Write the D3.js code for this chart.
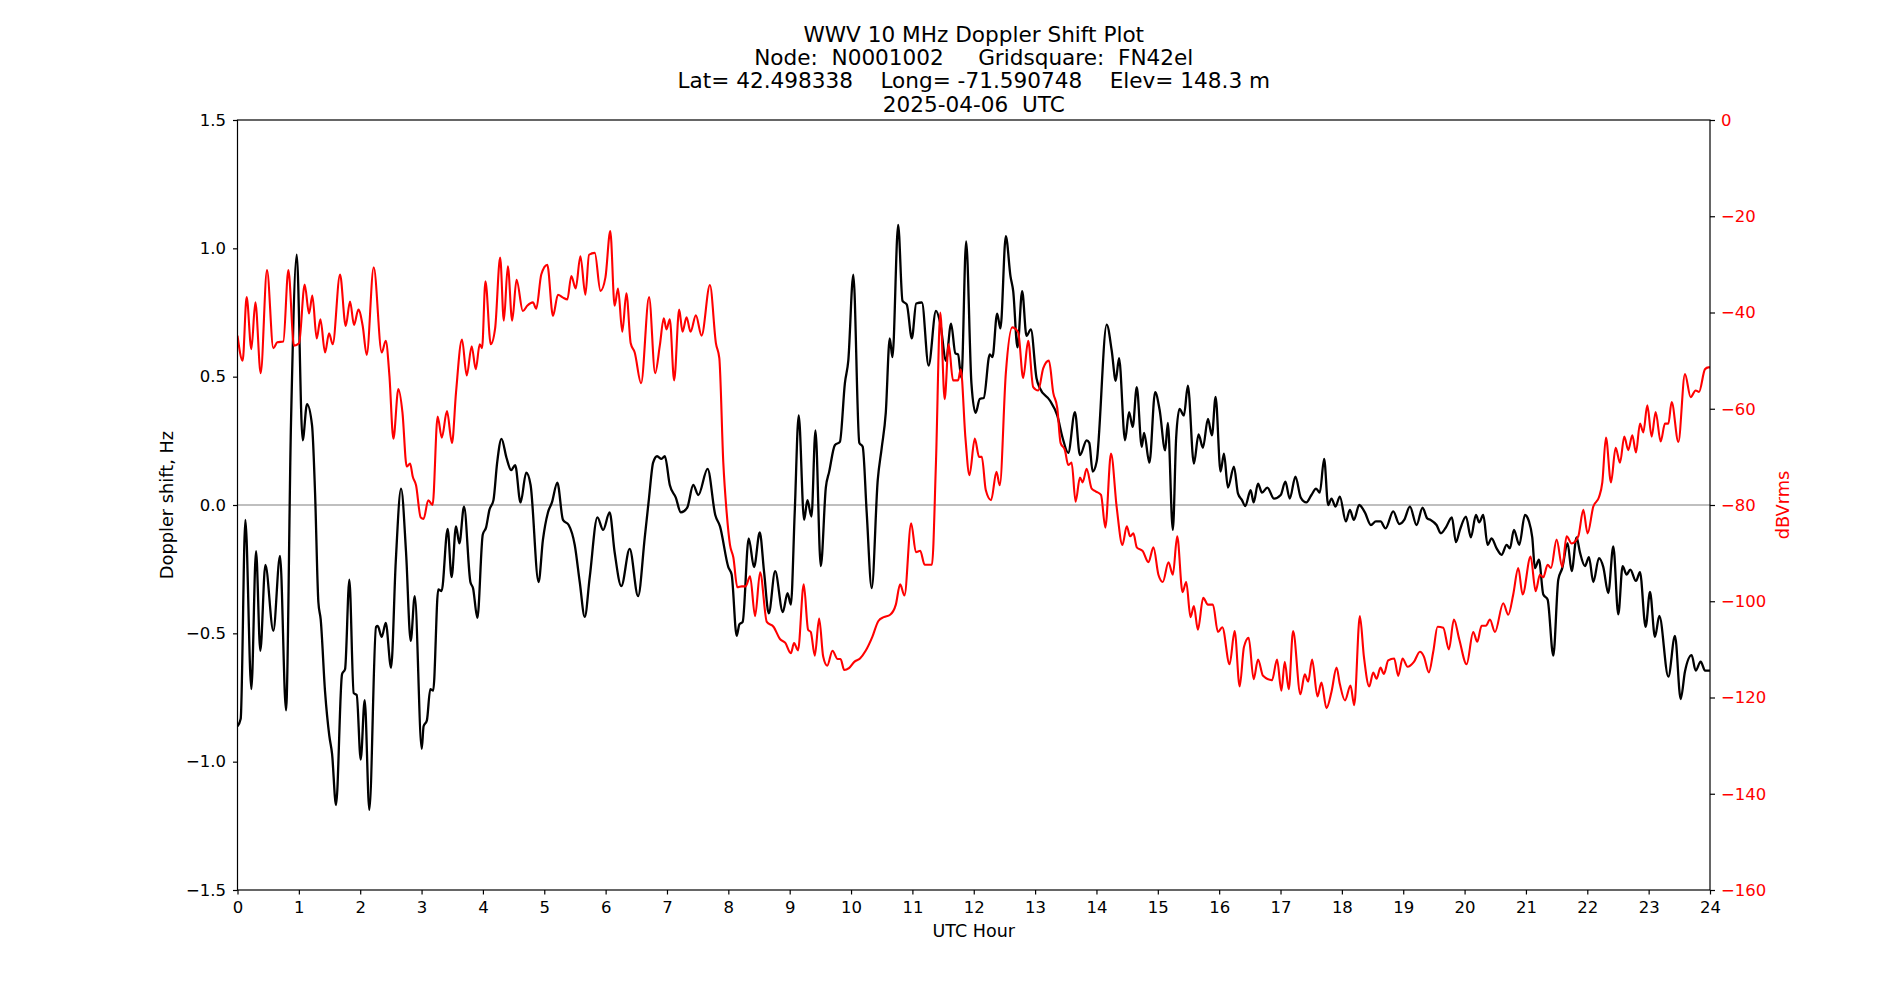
<!DOCTYPE html>
<html><head><meta charset="utf-8">
<script src="https://cdn.jsdelivr.net/npm/d3@7"></script>
<style>body{margin:0;background:#fff} text{font-family:"DejaVu Sans",sans-serif}</style>
</head><body><svg id="c" width="1900" height="1000"></svg>
<script>
// ---- data ----
const dopplerHours = [0.0,0.052,0.128,0.226,0.302,0.372,0.454,0.584,0.693,0.791,0.872,0.965,1.062,1.133,1.215,1.264,1.318,1.356,1.427,1.497,1.541,1.606,1.704,1.753,1.823,1.894,1.943,2.008,2.073,2.149,2.258,2.285,2.351,2.416,2.503,2.579,2.666,2.747,2.823,2.889,3.003,
3.033,3.087,3.142,3.19,3.272,3.327,3.425,3.49,3.561,3.616,3.692,3.796,3.839,3.91,3.997,4.052,4.106,4.172,4.232,4.303,4.384,4.46,4.526,4.613,4.706,4.777,4.907,4.978,5.06,5.125,5.213,5.305,5.398,5.496,5.578,5.66,5.741,5.866,5.959,
6.065,6.147,6.256,6.392,6.529,6.638,6.708,6.774,6.839,6.91,6.965,7.046,7.144,7.226,7.33,7.428,7.51,7.662,7.787,7.864,8.0,8.054,8.136,8.18,8.234,8.332,8.419,8.512,8.583,8.659,8.763,8.888,8.965,9.019,
9.082,9.147,9.235,9.289,9.355,9.42,9.507,9.589,9.644,9.736,9.818,9.9,9.955,10.037,10.135,10.19,10.255,10.337,10.435,10.5,10.566,10.631,10.675,10.768,10.839,10.909,10.991,11.062,11.155,11.264,11.384,11.455,11.548,11.63,11.7,11.744,11.799,11.876,11.962,12.03,
12.098,12.163,12.261,12.305,12.381,12.435,12.523,12.599,12.643,12.713,12.789,12.86,12.931,13.023,13.078,13.241,13.361,13.448,13.54,13.649,13.731,13.84,13.883,13.938,14.003,14.167,14.249,14.314,14.368,14.466,14.531,14.591,14.657,14.738,14.776,14.863,14.956,
15.03,15.12,15.163,15.245,15.299,15.354,15.425,15.49,15.588,15.664,15.735,15.817,15.882,15.942,16.023,16.078,16.143,16.241,16.306,16.372,16.426,16.513,16.562,16.633,16.698,16.785,16.894,17.003,17.079,17.15,17.243,17.33,17.422,17.504,17.58,17.64,17.711,17.776,17.831,17.896,17.967,
18.065,18.13,18.196,18.283,18.375,18.473,18.554,18.63,18.712,18.837,18.935,19.016,19.109,19.217,19.315,19.391,19.446,19.543,19.614,19.696,19.793,19.859,19.924,20.022,20.103,20.185,20.239,20.304,20.375,20.44,20.522,20.603,20.685,20.739,20.804,20.891,20.984,21.049,
21.103,21.147,21.212,21.283,21.353,21.446,21.527,21.592,21.679,21.745,21.826,21.88,21.962,22.027,22.098,22.19,22.261,22.342,22.424,22.505,22.576,22.641,22.701,22.793,22.859,22.951,23.022,23.103,23.174,23.321,23.429,23.522,23.592,23.701,23.766,23.848,23.92,24.0];
const dopplerHz = [-0.862,-0.833,-0.058,-0.717,-0.18,-0.568,-0.233,-0.49,-0.198,-0.80,0.32,0.975,0.252,0.393,0.31,0.048,-0.378,-0.446,-0.727,-0.90,-0.969,-1.169,-0.659,-0.64,-0.291,-0.733,-0.74,-0.992,-0.76,-1.188,-0.475,-0.471,-0.514,-0.459,-0.634,-0.223,0.064,-0.184,-0.529,-0.355,-0.95,
-0.862,-0.839,-0.717,-0.723,-0.329,-0.335,-0.093,-0.281,-0.083,-0.149,-0.006,-0.30,-0.324,-0.44,-0.116,-0.087,-0.019,0.019,0.165,0.258,0.184,0.136,0.155,0.01,0.126,0.078,-0.30,-0.136,-0.029,0.01,0.087,-0.058,-0.078,-0.155,-0.30,-0.436,-0.281,-0.048,-0.097,
-0.029,-0.184,-0.316,-0.171,-0.355,-0.126,0.029,0.165,0.19,0.18,0.19,0.078,0.029,-0.029,-0.01,0.078,0.039,0.141,-0.039,-0.083,-0.242,-0.271,-0.51,-0.465,-0.455,-0.13,-0.242,-0.107,-0.262,-0.422,-0.258,-0.417,-0.343,-0.388,
-0.029,0.349,-0.058,0.019,-0.045,0.291,-0.238,0.068,0.13,0.233,0.246,0.475,0.562,0.897,0.242,0.227,-0.029,-0.324,0.097,0.223,0.359,0.649,0.576,1.091,0.795,0.781,0.649,0.785,0.789,0.543,0.756,0.707,0.562,0.707,0.591,0.587,0.494,1.027,0.475,0.359,
0.413,0.417,0.587,0.576,0.746,0.688,1.047,0.891,0.833,0.614,0.833,0.659,0.684,0.494,0.455,0.407,0.349,0.262,0.203,0.362,0.194,0.252,0.242,0.13,0.169,0.703,0.601,0.484,0.572,0.252,0.362,0.304,0.459,0.227,0.281,0.165,0.44,
0.37,0.213,0.32,-0.097,0.262,0.374,0.349,0.465,0.161,0.275,0.223,0.335,0.271,0.421,0.13,0.2,0.068,0.149,0.045,0.019,-0.004,0.058,0.01,0.083,0.048,0.068,0.025,0.039,0.091,0.025,0.11,0.029,0.01,0.039,0.064,0.048,0.18,0.0,0.025,-0.006,0.033,
-0.064,-0.019,-0.058,0.0,-0.029,-0.078,-0.064,-0.064,-0.091,-0.025,-0.074,-0.058,-0.006,-0.078,-0.01,-0.052,-0.058,-0.078,-0.11,-0.087,-0.048,-0.145,-0.097,-0.045,-0.126,-0.039,-0.068,-0.039,-0.155,-0.13,-0.169,-0.194,-0.155,-0.169,-0.097,-0.155,-0.039,-0.064,
-0.126,-0.246,-0.213,-0.349,-0.368,-0.587,-0.291,-0.246,-0.149,-0.258,-0.126,-0.184,-0.238,-0.203,-0.30,-0.207,-0.242,-0.343,-0.161,-0.426,-0.238,-0.271,-0.252,-0.296,-0.262,-0.475,-0.339,-0.514,-0.432,-0.669,-0.51,-0.756,-0.649,-0.585,-0.645,-0.61,-0.645,-0.645];

const powerHours = [0.0,0.084,0.149,0.226,0.291,0.378,0.481,0.584,0.649,0.747,0.829,0.921,1.003,1.095,1.166,1.22,1.291,1.351,1.427,1.492,1.552,1.671,1.764,1.834,1.899,1.97,2.041,2.106,2.22,2.351,2.416,2.476,2.541,2.622,2.688,2.758,2.813,2.856,2.91,2.986,
3.033,3.109,3.18,3.262,3.33,3.414,3.496,3.561,3.659,3.736,3.817,3.883,3.948,3.986,4.041,4.128,4.199,4.281,4.341,4.406,4.477,4.548,4.651,4.722,4.815,4.87,4.951,5.049,5.142,5.223,5.305,5.376,5.441,5.512,5.589,5.67,5.73,5.823,5.916,5.997,
6.076,6.147,6.202,6.272,6.338,6.409,6.474,6.578,6.708,6.807,6.883,6.948,6.992,7.046,7.117,7.199,7.253,7.319,7.384,7.471,7.564,7.7,7.798,7.853,7.918,7.973,8.027,8.082,8.147,8.218,8.283,8.354,8.436,8.518,8.627,8.736,8.845,8.926,9.019,
9.071,9.136,9.229,9.3,9.344,9.409,9.48,9.546,9.611,9.698,9.78,9.829,9.889,9.966,10.053,10.146,10.238,10.347,10.446,10.533,10.637,10.73,10.8,10.871,10.98,11.057,11.128,11.199,11.319,11.384,11.455,11.526,11.591,11.662,11.744,11.788,11.864,11.93,12.017,
12.087,12.131,12.196,12.283,12.37,12.424,12.523,12.626,12.724,12.806,12.887,12.969,13.051,13.132,13.225,13.296,13.361,13.415,13.486,13.54,13.595,13.66,13.731,13.775,13.84,13.922,13.992,14.074,14.145,14.237,14.33,14.423,14.494,14.548,14.602,14.657,14.755,14.847,14.929,15.01,15.081,
15.174,15.245,15.316,15.403,15.463,15.533,15.588,15.653,15.74,15.817,15.898,15.98,16.051,16.17,16.252,16.334,16.404,16.481,16.562,16.633,16.715,16.862,16.943,17.014,17.069,17.134,17.205,17.324,17.395,17.45,17.515,17.602,17.667,17.749,17.831,17.913,17.967,18.05,
18.141,18.201,18.293,18.359,18.446,18.511,18.565,18.63,18.685,18.755,18.853,18.918,18.989,19.071,19.174,19.272,19.337,19.418,19.489,19.56,19.652,19.745,19.826,19.913,20.033,20.141,20.207,20.277,20.348,20.413,20.495,20.63,20.712,20.793,20.875,20.946,21.076,
21.158,21.228,21.283,21.353,21.408,21.5,21.592,21.663,21.745,21.853,21.935,22.005,22.098,22.19,22.245,22.304,22.386,22.462,22.533,22.603,22.668,22.734,22.793,22.859,22.913,22.978,23.049,23.114,23.196,23.266,23.321,23.375,23.484,23.592,23.685,23.766,23.821,23.918,23.973,24.0];
const powerDb = [-44.8,-50.0,-36.8,-47.6,-37.9,-52.6,-31.2,-47.4,-46.2,-46.0,-31.2,-46.9,-46.4,-34.2,-40.2,-36.5,-45.4,-41.4,-48.3,-44.3,-46.6,-32.1,-42.8,-37.7,-42.6,-39.4,-42.8,-48.8,-30.6,-48.3,-45.9,-53.1,-66.2,-55.9,-60.7,-72.0,-71.4,-74.1,-75.9,-82.6,
-82.9,-79.0,-80.0,-61.6,-66.0,-60.5,-67.1,-56.7,-45.6,-53.1,-47.0,-51.8,-46.6,-47.4,-33.5,-46.6,-43.3,-28.6,-41.7,-30.4,-41.7,-33.2,-39.7,-38.6,-37.9,-39.2,-32.1,-30.1,-40.7,-36.3,-36.9,-37.3,-32.4,-35.0,-28.3,-36.3,-28.0,-27.6,-35.5,-32.7,
-23.1,-38.6,-35.0,-44.0,-36.0,-46.4,-48.3,-54.7,-36.8,-52.6,-46.9,-41.2,-43.5,-41.4,-54.1,-39.4,-44.0,-41.0,-44.0,-40.6,-44.8,-34.3,-46.4,-49.5,-71.2,-81.6,-88.3,-90.9,-97.1,-96.9,-96.9,-94.8,-103.1,-94.0,-104.3,-105.3,-107.9,-108.6,-110.8,
-108.7,-110.2,-96.5,-105.9,-106.4,-111.3,-103.6,-111.5,-113.4,-110.3,-112.0,-112.0,-114.3,-113.9,-112.6,-111.9,-110.3,-107.4,-104.1,-103.3,-102.8,-100.7,-96.5,-98.8,-83.8,-89.8,-89.5,-92.4,-92.4,-71.2,-40.0,-58.0,-46.6,-54.1,-54.1,-51.8,-66.0,-73.8,-66.2,
-70.0,-70.0,-76.9,-79.0,-73.1,-75.9,-52.6,-43.1,-44.1,-53.6,-45.9,-55.5,-56.2,-51.6,-50.0,-56.7,-59.8,-67.1,-68.6,-71.7,-71.2,-79.3,-74.3,-75.3,-72.5,-76.6,-77.2,-77.9,-84.7,-69.3,-80.5,-88.3,-84.4,-86.5,-85.9,-88.8,-89.6,-91.9,-88.8,-94.5,-96.0,
-91.9,-94.5,-86.5,-98.1,-96.0,-103.3,-101.0,-105.9,-99.3,-100.7,-100.7,-106.4,-105.4,-113.1,-106.2,-117.7,-109.5,-107.6,-116.2,-112.1,-115.5,-116.4,-112.1,-118.6,-112.6,-118.3,-106.2,-119.3,-115.2,-116.7,-112.1,-119.8,-116.9,-122.2,-118.8,-113.8,-117.2,-120.6,
-117.5,-121.6,-103.1,-111.5,-117.7,-114.8,-116.1,-113.8,-115.1,-112.3,-111.9,-115.5,-111.9,-113.6,-112.6,-110.5,-111.5,-114.8,-110.5,-105.3,-105.5,-110.0,-103.8,-107.9,-113.1,-106.4,-108.4,-105.1,-105.1,-103.8,-106.4,-100.4,-102.8,-98.6,-93.1,-98.6,-90.7,
-97.9,-94.5,-95.0,-92.4,-93.1,-87.2,-92.9,-86.5,-88.0,-86.5,-81.0,-85.9,-80.3,-78.4,-75.3,-66.0,-75.3,-68.1,-71.2,-65.8,-68.6,-65.5,-69.1,-63.1,-64.9,-59.3,-65.8,-60.7,-66.8,-63.1,-63.1,-58.6,-66.9,-52.8,-57.6,-56.2,-56.5,-51.8,-51.4,-51.4];

const xTickValues = d3.range(0, 25, 1);
const leftTickValues = [-1.5, -1.0, -0.5, 0.0, 0.5, 1.0, 1.5];
const rightTickValues = [0, -20, -40, -60, -80, -100, -120, -140, -160];
const titleLines = [
  "WWV 10 MHz Doppler Shift Plot",
  "Node:  N0001002     Gridsquare:  FN42el",
  "Lat= 42.498338    Long= -71.590748    Elev= 148.3 m",
  "2025-04-06  UTC"
];
const xLabel = "UTC Hour";
const leftLabel = "Doppler shift, Hz";
const rightLabel = "dBVrms";

// ---- layout ----
const L = 237.5, R = 1710, T = 120, B = 890;
const svg = d3.select("#c");
const x = d3.scaleLinear().domain([0, 24]).range([L, R]);
const yL = d3.scaleLinear().domain([-1.5, 1.5]).range([B, T]);
const yR = d3.scaleLinear().domain([-160, 0]).range([B, T]);

svg.append("defs").append("clipPath").attr("id", "clip")
  .append("rect").attr("x", L).attr("y", T).attr("width", R - L).attr("height", B - T);

// zero line
svg.append("line").attr("x1", L).attr("x2", R).attr("y1", yL(0)).attr("y2", yL(0))
  .attr("stroke", "#808080").attr("stroke-width", 1.2);

const dopplerData = dopplerHours.map((h, i) => [h, dopplerHz[i]]);
const powerData = powerHours.map((h, i) => [h, powerDb[i]]);

svg.append("path").datum(dopplerData)
  .attr("clip-path", "url(#clip)")
  .attr("fill", "none").attr("stroke", "#000").attr("stroke-width", 2.3)
  .attr("stroke-linejoin", "round")
  .attr("d", d3.line().x(d => x(d[0])).y(d => yL(d[1])).curve(d3.curveMonotoneX));

svg.append("path").datum(powerData)
  .attr("clip-path", "url(#clip)")
  .attr("fill", "none").attr("stroke", "#ff0000").attr("stroke-width", 2.1)
  .attr("stroke-linejoin", "round")
  .attr("d", d3.line().x(d => x(d[0])).y(d => yR(d[1])).curve(d3.curveMonotoneX));

// frame
svg.append("rect").attr("x", L).attr("y", T).attr("width", R - L).attr("height", B - T)
  .attr("fill", "none").attr("stroke", "#000").attr("stroke-width", 1.2);

const fs = "16.5px";
function styleAxis(g, color) {
  g.select(".domain").remove();
  g.selectAll(".tick line").attr("stroke", "#000").attr("stroke-width", 1.2);
  g.selectAll(".tick text").attr("fill", color).style("font-size", fs)
    .style("font-family", "'DejaVu Sans', sans-serif");
}

const gx = svg.append("g").attr("transform", `translate(0,${B})`)
  .call(d3.axisBottom(x).tickValues(xTickValues).tickFormat(d3.format("d")).tickSize(4.5).tickPadding(7));
styleAxis(gx, "#000");

const gl = svg.append("g").attr("transform", `translate(${L},0)`)
  .call(d3.axisLeft(yL).tickValues(leftTickValues).tickFormat(d3.format(".1f")).tickSize(4.5).tickPadding(7));
styleAxis(gl, "#000");

const gr = svg.append("g").attr("transform", `translate(${R},0)`)
  .call(d3.axisRight(yR).tickValues(rightTickValues).tickFormat(d3.format("d")).tickSize(5).tickPadding(6));
styleAxis(gr, "#ff0000");

// title
const cx = (L + R) / 2;
const baselines = [41.7, 65.0, 88.4, 111.7];
svg.append("g").selectAll("text").data(titleLines).join("text")
  .attr("x", cx).attr("y", (d, i) => baselines[i])
  .attr("text-anchor", "middle").attr("xml:space", "preserve")
  .style("white-space", "pre").style("font-size", "21.6px").attr("fill", "#000")
  .text(d => d);

svg.append("text").attr("x", cx).attr("y", 937).attr("text-anchor", "middle")
  .style("font-size", "17.5px").text(xLabel);

svg.append("text").attr("transform", `translate(173,${(T + B) / 2}) rotate(-90)`)
  .attr("text-anchor", "middle").style("font-size", "17.8px").text(leftLabel);

svg.append("text").attr("transform", `translate(1789,${(T + B) / 2}) rotate(-90)`)
  .attr("text-anchor", "middle").style("font-size", "17.8px").attr("fill", "#ff0000").text(rightLabel);
</script></body></html>
